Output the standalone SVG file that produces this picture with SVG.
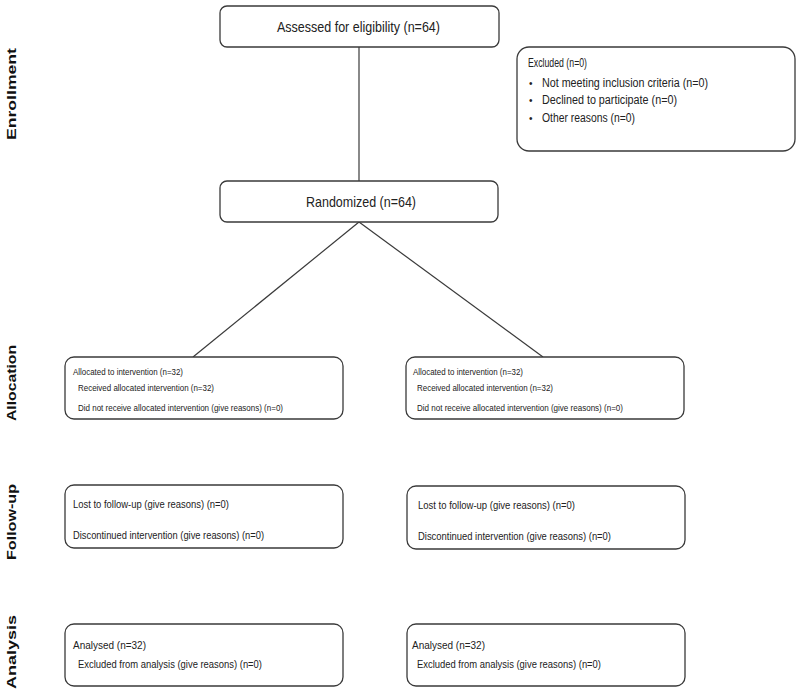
<svg xmlns="http://www.w3.org/2000/svg" width="800" height="699" viewBox="0 0 800 699">
<style>
.box{fill:#fff;stroke:#3a3a3a;stroke-width:1.3}
.ln{stroke:#3a3a3a;stroke-width:1.2;fill:none}
.c{font-family:"Liberation Sans Narrow","Liberation Sans",Arial,sans-serif;fill:#222}
.s{font-family:"Liberation Sans",Arial,sans-serif;fill:#222}
.side{font-family:"Liberation Sans",Arial,sans-serif;font-weight:bold;font-size:13px;fill:#111}
</style>
<rect width="800" height="699" fill="#fff"/>
<g id="labels">
<text class="side" transform="translate(16,94) rotate(-90)" text-anchor="middle" textLength="92" lengthAdjust="spacingAndGlyphs">Enrollment</text>
<text class="side" transform="translate(16,383) rotate(-90)" text-anchor="middle" textLength="76" lengthAdjust="spacingAndGlyphs">Allocation</text>
<text class="side" transform="translate(16,522) rotate(-90)" text-anchor="middle" textLength="76" lengthAdjust="spacingAndGlyphs">Follow-up</text>
<text class="side" transform="translate(16,652) rotate(-90)" text-anchor="middle" textLength="74" lengthAdjust="spacingAndGlyphs">Analysis</text>
</g>
<g id="connectors">
<line class="ln" x1="359" y1="47" x2="359" y2="181"/>
<line class="ln" x1="359" y1="222" x2="193" y2="357"/>
<line class="ln" x1="359" y1="222" x2="543" y2="357"/>
</g>
<g id="assessed">
<rect class="box" x="220" y="6" width="279" height="41" rx="7"/>
<text class="c" x="277" y="32" font-size="15" textLength="163" lengthAdjust="spacingAndGlyphs">Assessed for eligibility (n=64)</text>
</g>
<g id="excluded">
<rect class="box" x="517" y="47" width="278" height="104" rx="12"/>
<text class="c" x="528" y="67" font-size="12" textLength="59" lengthAdjust="spacingAndGlyphs">Excluded  (n=0)</text>
<text class="s" x="529" y="87" font-size="10">•</text>
<text class="c" x="542" y="87" font-size="12" textLength="166" lengthAdjust="spacingAndGlyphs">Not meeting  inclusion criteria (n=0)</text>
<text class="s" x="529" y="104" font-size="10">•</text>
<text class="c" x="542" y="104" font-size="12" textLength="135" lengthAdjust="spacingAndGlyphs">Declined to participate (n=0)</text>
<text class="s" x="529" y="122" font-size="10">•</text>
<text class="c" x="542" y="122" font-size="12" textLength="93" lengthAdjust="spacingAndGlyphs">Other reasons (n=0)</text>
</g>
<g id="randomized">
<rect class="box" x="220" y="181" width="278" height="41" rx="7"/>
<text class="c" x="306" y="207" font-size="15" textLength="110" lengthAdjust="spacingAndGlyphs">Randomized  (n=64)</text>
</g>
<g id="alloc-left">
<rect class="box" x="65" y="357" width="278" height="62" rx="9"/>
<text class="s" x="73" y="375" font-size="9" textLength="110" lengthAdjust="spacingAndGlyphs">Allocated to intervention (n=32)</text>
<text class="s" x="78" y="391" font-size="9" textLength="136" lengthAdjust="spacingAndGlyphs">Received allocated intervention (n=32)</text>
<text class="s" x="78" y="411" font-size="9" textLength="205" lengthAdjust="spacingAndGlyphs">Did not receive allocated intervention (give reasons) (n=0)</text>
</g>
<g id="alloc-right">
<rect class="box" x="406" y="357" width="278" height="62" rx="9"/>
<text class="s" x="413" y="375" font-size="9" textLength="110" lengthAdjust="spacingAndGlyphs">Allocated to intervention (n=32)</text>
<text class="s" x="417" y="391" font-size="9" textLength="136" lengthAdjust="spacingAndGlyphs">Received allocated intervention (n=32)</text>
<text class="s" x="417" y="411" font-size="9" textLength="206" lengthAdjust="spacingAndGlyphs">Did not receive allocated intervention (give reasons) (n=0)</text>
</g>
<g id="follow-left">
<rect class="box" x="65" y="485" width="278" height="63" rx="9"/>
<text class="s" x="73" y="508" font-size="11" textLength="156" lengthAdjust="spacingAndGlyphs">Lost to  follow-up (give reasons) (n=0)</text>
<text class="s" x="73" y="539" font-size="11" textLength="191" lengthAdjust="spacingAndGlyphs">Discontinued intervention (give reasons) (n=0)</text>
</g>
<g id="follow-right">
<rect class="box" x="407" y="486" width="278" height="63" rx="9"/>
<text class="s" x="418" y="509" font-size="11" textLength="157" lengthAdjust="spacingAndGlyphs">Lost to  follow-up (give reasons) (n=0)</text>
<text class="s" x="418" y="540" font-size="11" textLength="193" lengthAdjust="spacingAndGlyphs">Discontinued intervention (give reasons) (n=0)</text>
</g>
<g id="analysis-left">
<rect class="box" x="65" y="624" width="278" height="62" rx="9"/>
<text class="s" x="73" y="649" font-size="11" textLength="73" lengthAdjust="spacingAndGlyphs">Analysed  (n=32)</text>
<text class="s" x="78" y="668" font-size="11" textLength="184" lengthAdjust="spacingAndGlyphs">Excluded  from analysis (give reasons) (n=0)</text>
</g>
<g id="analysis-right">
<rect class="box" x="407" y="624" width="278" height="62" rx="9"/>
<text class="s" x="412" y="649" font-size="11" textLength="73" lengthAdjust="spacingAndGlyphs">Analysed  (n=32)</text>
<text class="s" x="417" y="668" font-size="11" textLength="184" lengthAdjust="spacingAndGlyphs">Excluded  from analysis (give reasons) (n=0)</text>
</g>
</svg>
